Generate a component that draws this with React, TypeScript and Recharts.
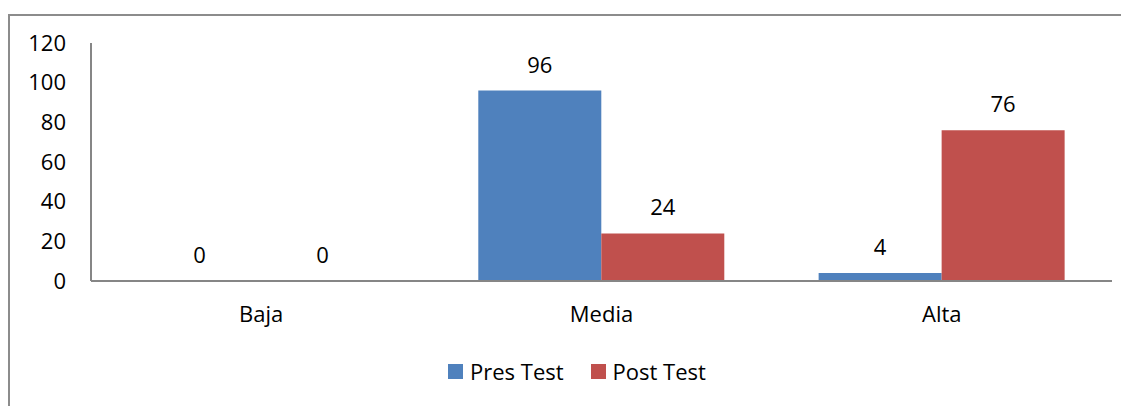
import React from 'react';
import {Bar, BarChart, LabelList, Legend, XAxis, YAxis} from "recharts";

const categories = ['Baja', 'Media', 'Alta'];
const presTest = [0, 96, 4];
const postTest = [0, 24, 76];
const yTicks = [0, 20, 40, 60, 80, 100, 120];

const FONT = '"Open Sans", sans-serif';

const data = categories.map((name, i) => ({
	name,
	pres: presTest[i],
	post: postTest[i],
}));

const legendItems = [
	{label: 'Pres Test', color: '#4F81BD'},
	{label: 'Post Test', color: '#C0504D'},
];

const renderLegend = () => (
	<div style={{display: 'flex', alignItems: 'center', fontFamily: FONT, fontSize: 22, lineHeight: '22px', color: '#000'}}>
		{legendItems.map((item, i) => (
			<div key={item.label} style={{display: 'flex', alignItems: 'center', marginRight: i === 0 ? 27 : 0}}>
				<span style={{display: 'inline-block', width: 15, height: 15, background: item.color, marginRight: 7}}/>
				<span>{item.label}</span>
			</div>
		))}
	</div>
);

const App = () => {
	return (
		<div style={{marginTop: 6, borderTop: '2px solid #8c8c8c', borderLeft: '2px solid #8c8c8c', width: 1119, height: 390}}>
			<BarChart width={1119} height={390} data={data} barGap={0} barCategoryGap="13.8%"
					  margin={{top: 27, right: 17, left: 0, bottom: 85}}>
				<XAxis dataKey="name" height={40} tickLine={false} tickSize={0} tickMargin={25}
					   axisLine={{stroke: '#868686', strokeWidth: 2}}
					   tick={{fill: '#000', fontSize: 22, fontFamily: FONT}}/>
				<YAxis width={81} domain={[0, 120]} ticks={yTicks} tickLine={false} tickSize={0} tickMargin={25}
					   axisLine={{stroke: '#868686', strokeWidth: 2}}
					   tick={{fill: '#000', fontSize: 22, fontFamily: FONT}}/>
				<Legend verticalAlign="middle" align="center" layout="horizontal" content={renderLegend}
						wrapperStyle={{top: 344, left: 438, width: 'auto'}}/>
				<Bar dataKey="pres" name="Pres Test" fill="#4F81BD" minPointSize={0.01} isAnimationActive={false}>
					<LabelList dataKey="pres" position="top" offset={18} fill="#000" fontSize={22} fontFamily={FONT}/>
				</Bar>
				<Bar dataKey="post" name="Post Test" fill="#C0504D" minPointSize={0.01} isAnimationActive={false}>
					<LabelList dataKey="post" position="top" offset={18} fill="#000" fontSize={22} fontFamily={FONT}/>
				</Bar>
			</BarChart>
		</div>
	);
};

export default App;
